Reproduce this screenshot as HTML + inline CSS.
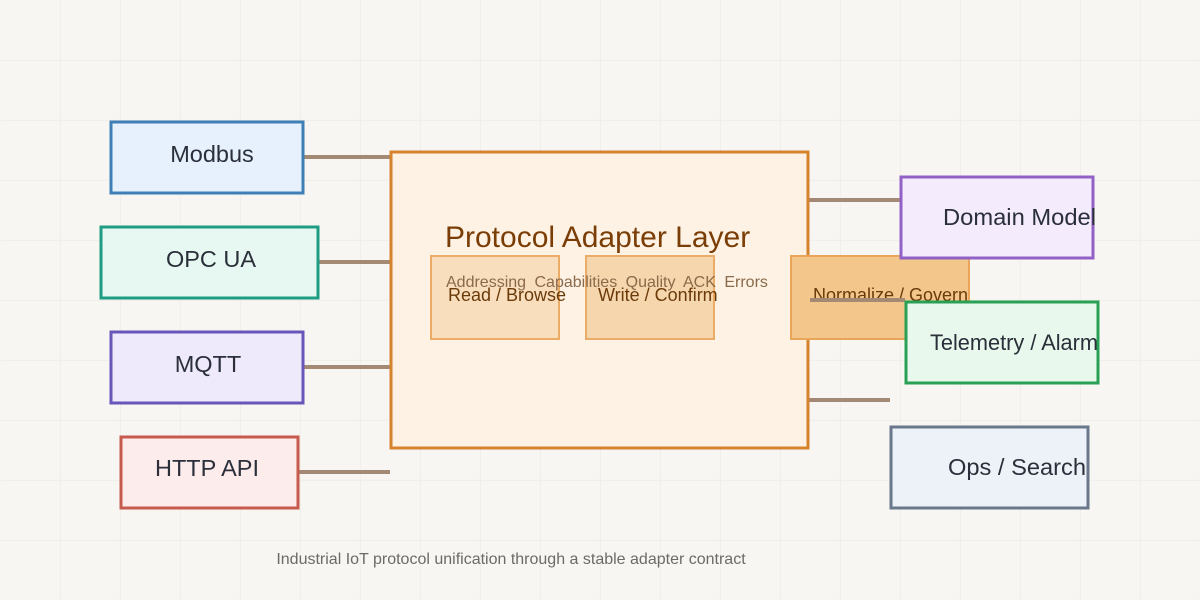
<!DOCTYPE html>
<html><head><meta charset="utf-8"><style>
html,body{margin:0;padding:0;background:#f7f6f2;}
svg{display:block;font-family:"Liberation Sans",Arial,sans-serif;}
</style></head><body>
<svg width="1200" height="600" viewBox="0 0 1200 600" xmlns="http://www.w3.org/2000/svg">
<defs><pattern id="g" width="60" height="60" patternUnits="userSpaceOnUse"><path d="M60 0V60M0 60H60" fill="none" stroke="#ebe8e1" stroke-width="1.2"/></pattern></defs>
<rect width="1200" height="600" fill="#f7f6f2"/>
<rect width="1200" height="600" fill="url(#g)" transform="translate(0.5,0.5)"/>
<g stroke="#a48a74" stroke-width="4">
<line x1="303" y1="157" x2="391" y2="157"/>
<line x1="318" y1="262" x2="391" y2="262"/>
<line x1="303" y1="367" x2="391" y2="367"/>
<line x1="298" y1="472" x2="390" y2="472"/>
<line x1="808" y1="200" x2="901" y2="200"/>
<line x1="808" y1="400" x2="890" y2="400"/>
</g>
<rect x="111" y="122" width="192" height="71" fill="#e7f1fd" stroke="#3d7fb6" stroke-width="3"/>
<rect x="101" y="227" width="217" height="71" fill="#e6f8f1" stroke="#1e9d84" stroke-width="3"/>
<rect x="111" y="332" width="192" height="71" fill="#eeeafc" stroke="#6a55bb" stroke-width="3"/>
<rect x="121" y="437" width="177" height="71" fill="#fdecec" stroke="#c65a4d" stroke-width="3"/>
<g font-size="23.5" fill="#2a2f3a" text-anchor="middle">
<text x="212" y="162">Modbus</text>
<text x="211" y="267">OPC UA</text>
<text x="208" y="372">MQTT</text>
<text x="207" y="476">HTTP API</text>
</g>
<rect x="391" y="152" width="417" height="296" fill="#fdf2e4" stroke="#d5832d" stroke-width="3"/>
<rect x="431" y="256" width="128" height="83" fill="#f8dcb8" stroke="#e9a55a" stroke-width="2" opacity="0.9"/>
<rect x="586" y="256" width="128" height="83" fill="#f6d4a8" stroke="#e9a55a" stroke-width="2" opacity="0.9"/>
<rect x="791" y="256" width="178" height="83" fill="#f3c68c" stroke="#e9a55a" stroke-width="2"/>
<text x="445" y="247" font-size="30" fill="#7a3d05">Protocol Adapter Layer</text>
<text x="446" y="287" font-size="16" fill="#8a6a4a" word-spacing="4">Addressing Capabilities Quality ACK Errors</text>
<g font-size="18" fill="#6b3a0a">
<text x="448" y="301">Read / Browse</text>
<text x="598" y="301">Write / Confirm</text>
<text x="813" y="301">Normalize / Govern</text>
</g>
<line x1="810" y1="300" x2="905" y2="300" stroke="#a48a74" stroke-width="4"/>
<rect x="901" y="177" width="192" height="81" fill="#f4ecfd" stroke="#9261c6" stroke-width="3"/>
<rect x="906" y="302" width="192" height="81" fill="#e8f8ec" stroke="#28a055" stroke-width="3"/>
<rect x="891" y="427" width="197" height="81" fill="#edf2f8" stroke="#69788a" stroke-width="3"/>
<g font-size="23.5" fill="#2a2f3a">
<text x="943" y="225" textLength="153" lengthAdjust="spacingAndGlyphs">Domain Model</text>
<text x="930" y="350" font-size="22" textLength="168" lengthAdjust="spacingAndGlyphs">Telemetry / Alarm</text>
<text x="948" y="475" textLength="138" lengthAdjust="spacingAndGlyphs">Ops / Search</text>
</g>
<text x="511" y="564" font-size="16" fill="#6e6a66" text-anchor="middle">Industrial IoT protocol unification through a stable adapter contract</text>
</svg>
</body></html>
